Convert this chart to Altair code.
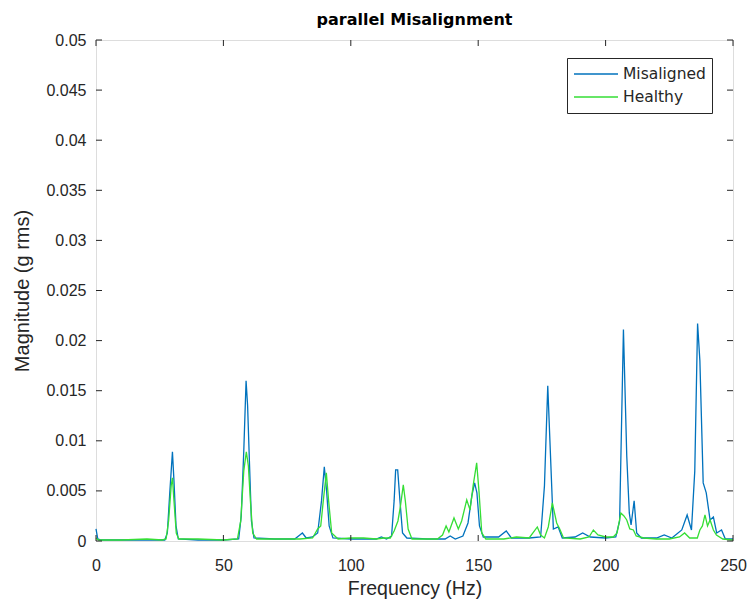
import altair as alt
import pandas as pd

# ---- data ----
freq_mis = [0, 0.7, 2, 10, 20, 27, 28, 29, 30, 30.6, 31.4, 32.3, 40, 50, 56, 57, 58, 58.9, 59.5, 60.2, 61, 62,
            70, 78, 80, 81, 82.5, 85, 87, 88.5, 89.6, 90.5, 91.5, 93, 100, 110, 112, 114, 116, 117, 117.6, 118.4,
            119.3, 120.3, 122, 130, 137, 139, 141, 144, 146, 147.5, 148.6, 149.5, 150.5, 152, 158, 161, 163, 170,
            174.5, 176, 177.3, 178.3, 179.5, 181.4, 183, 188, 191, 194, 200, 204, 205.5, 207, 208.3, 209.3, 210,
            211.2, 212.2, 214, 220, 223, 226, 229.9, 232, 233.7, 235, 236.1, 237, 238.3, 239.5, 241, 242.3, 243.6,
            245.5, 247, 250]
mag_mis = [0.0012, 0.0002, 0.0001, 0.0001, 0.0001, 0.0001, 0.0008, 0.005, 0.0089, 0.006, 0.0015, 0.0002, 0.0001,
           0.0001, 0.0002, 0.0025, 0.009, 0.016, 0.0135, 0.008, 0.002, 0.0003, 0.0002, 0.0002, 0.0006, 0.0008,
           0.0003, 0.0004, 0.0008, 0.004, 0.0074, 0.005, 0.0015, 0.0003, 0.0002, 0.0002, 0.0004, 0.0002, 0.0005,
           0.004, 0.0071, 0.0071, 0.004, 0.0008, 0.0003, 0.0002, 0.0002, 0.0005, 0.0002, 0.0005, 0.0018, 0.0045,
           0.0058, 0.0048, 0.0015, 0.0004, 0.0004, 0.001, 0.0003, 0.0003, 0.0004, 0.0055, 0.0155, 0.009, 0.0012,
           0.0014, 0.0003, 0.0004, 0.0008, 0.0004, 0.0003, 0.0004, 0.002, 0.0211, 0.0085, 0.0028, 0.0016, 0.004,
           0.0008, 0.0003, 0.0003, 0.0006, 0.0003, 0.0011, 0.0026, 0.0011, 0.007, 0.0217, 0.018, 0.0058, 0.0048,
           0.0021, 0.0024, 0.0008, 0.0011, 0.0002, 0.0002]

freq_h = [0, 1, 10, 20, 26, 27.5, 28.5, 29.5, 30, 30.6, 31.5, 32.5, 40, 50, 55.5, 56.8, 58, 59, 59.8, 60.6, 61.5,
          63, 70, 80, 85, 87, 88.2, 89.2, 90.4, 91.3, 92.5, 95, 100, 105, 110, 113, 115.5, 117, 118.5, 119.5,
          120.6, 121.4, 122.5, 124, 130, 134, 136, 137.4, 138.5, 140.5, 142.2, 143.5, 145.5, 146.8, 148, 149.4,
          150.3, 151.4, 153, 160, 165, 170, 173.2, 174.5, 176, 177.5, 179.1, 180.8, 182, 183.5, 190, 193.5, 195.2,
          197, 200, 203, 204.5, 206, 207.2, 208.3, 209.5, 210.9, 212, 215, 220, 225, 229, 231, 233, 236, 237, 238,
          239, 240, 241, 242.3, 243.5, 246, 250]
mag_h = [0.0003, 0.0001, 0.0001, 0.0002, 0.0001, 0.0002, 0.002, 0.0055, 0.0063, 0.004, 0.0008, 0.0002, 0.0002,
         0.0001, 0.0002, 0.002, 0.007, 0.0089, 0.0075, 0.004, 0.0008, 0.0002, 0.0002, 0.0002, 0.0003, 0.0012,
         0.0015, 0.004, 0.0068, 0.004, 0.0008, 0.0002, 0.0003, 0.0003, 0.0002, 0.0003, 0.0003, 0.001, 0.002,
         0.0035, 0.0056, 0.004, 0.0012, 0.0002, 0.0002, 0.0002, 0.0006, 0.0015, 0.0009, 0.0023, 0.0012, 0.002,
         0.0041, 0.0031, 0.0055, 0.0078, 0.005, 0.0008, 0.0002, 0.0002, 0.0004, 0.0003, 0.0014, 0.0006, 0.0003,
         0.0014, 0.0038, 0.0018, 0.0012, 0.0003, 0.0002, 0.0004, 0.0011, 0.0006, 0.0004, 0.0004, 0.0008, 0.0028,
         0.0025, 0.0021, 0.0012, 0.0011, 0.0005, 0.0003, 0.0002, 0.0002, 0.0004, 0.0008, 0.0003, 0.0003, 0.0011,
         0.0015, 0.0026, 0.0015, 0.0021, 0.0011, 0.0006, 0.0002, 0.0001]

series = ["Misaligned", "Healthy"]
colors = ["#0072BD", "#35DE35"]
x_ticks = [0, 50, 100, 150, 200, 250]
y_ticks = [0, 0.005, 0.01, 0.015, 0.02, 0.025, 0.03, 0.035, 0.04, 0.045, 0.05]

W, H = 637, 501
FONT = "DejaVu Sans"
INK = "#262626"

df_mis = pd.DataFrame({"f": freq_mis, "m": mag_mis, "s": series[0]})
df_h = pd.DataFrame({"f": freq_h, "m": mag_h, "s": series[1]})
df_xt = pd.DataFrame({"t": x_ticks})
df_yt = pd.DataFrame({"t": y_ticks})

xs = alt.Scale(domain=[0, 250], nice=False, zero=False)
ys = alt.Scale(domain=[0, 0.05], nice=False)
cs = alt.Scale(domain=series, range=colors)

x_enc = alt.X("f:Q", scale=xs, title="Frequency (Hz)",
              axis=alt.Axis(values=x_ticks, format="d", grid=False, domain=False, ticks=False,
                            labelFlush=False, labelFontSize=16, titleFontSize=19.5, labelPadding=16,
                            titlePadding=6, labelColor=INK, titleColor=INK, titleFontWeight="normal"))
y_enc = alt.Y("m:Q", scale=ys, title="Magnitude (g rms)",
              axis=alt.Axis(values=y_ticks, format="~g", grid=False, domain=False, ticks=False,
                            labelFlush=False, labelFontSize=16, titleFontSize=20, labelPadding=10,
                            titleAngle=270, titleAlign="center", titleBaseline="middle",
                            titleX=-74, titleY=H / 2,
                            labelColor=INK, titleColor=INK, titleFontWeight="normal"))
legend = alt.Legend(title=None, orient="none", legendX=471, legendY=18, strokeColor=INK,
                    fillColor="white", padding=6, symbolType="stroke", symbolSize=1936,
                    symbolStrokeWidth=1.3, labelFontSize=15.5, labelFont=FONT, labelColor=INK,
                    clipHeight=20, rowPadding=3, labelOffset=4)

line_mis = alt.Chart(df_mis).mark_line(strokeWidth=1.3).encode(
    x=x_enc, y=y_enc, color=alt.Color("s:N", scale=cs, legend=legend))
line_h = alt.Chart(df_h).mark_line(strokeWidth=1.3).encode(
    x=alt.X("f:Q", scale=xs), y=alt.Y("m:Q", scale=ys), color=alt.Color("s:N", scale=cs, legend=legend))

tick_len = 6
xt_bot = alt.Chart(df_xt).mark_rule(color=INK).encode(
    x=alt.X("t:Q", scale=xs), y=alt.value(H), y2=alt.value(H - tick_len))
xt_top = alt.Chart(df_xt).mark_rule(color=INK).encode(
    x=alt.X("t:Q", scale=xs), y=alt.value(0), y2=alt.value(tick_len))
yt_left = alt.Chart(df_yt).mark_rule(color=INK).encode(
    y=alt.Y("t:Q", scale=ys), x=alt.value(0), x2=alt.value(tick_len))
yt_right = alt.Chart(df_yt).mark_rule(color=INK).encode(
    y=alt.Y("t:Q", scale=ys), x=alt.value(W), x2=alt.value(W - tick_len))

chart = alt.layer(line_mis, line_h, xt_bot, xt_top, yt_left, yt_right).properties(
    width=W, height=H,
    title=alt.TitleParams("parallel Misalignment", fontSize=16, fontWeight="bold", font=FONT,
                          color="black", offset=4, anchor="middle"),
    autosize=alt.AutoSizeParams(type="none"),
    padding={"left": 96, "top": 40, "right": 14, "bottom": 64},
).configure_view(stroke=INK, strokeWidth=1).configure_axis(
    labelFont=FONT, titleFont=FONT
).configure(background="white")

chart.save("out.html", embed_options={"renderer": "svg", "actions": False})
